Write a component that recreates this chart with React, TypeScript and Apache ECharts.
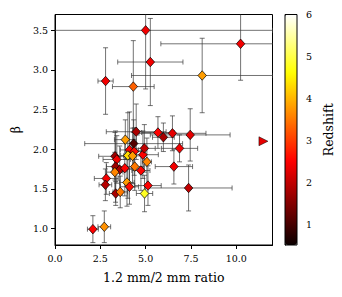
import React, { useEffect, useRef } from "react";
import * as echarts from "echarts";

// ratio (1.2mm/2mm), beta, x error, y error, redshift
const ratio = [5.0, 5.26, 10.24, 8.12, 4.32, 2.79, 4.48, 3.88, 4.34, 4.11, 4.37, 4.02, 4.28, 3.31, 3.41, 3.34, 3.57, 3.85, 4.4, 3.3, 2.83, 2.78, 3.35, 3.6, 3.97, 4.11, 4.94, 5.13, 4.74, 5.07, 4.85, 4.93, 5.68, 5.98, 6.48, 7.46, 6.87, 6.56, 7.37, 2.09, 2.72];
const beta = [3.5, 3.1, 3.33, 2.93, 2.79, 2.86, 2.22, 2.12, 2.07, 1.99, 1.97, 1.92, 1.915, 1.91, 1.87, 1.78, 1.74, 1.76, 1.78, 1.71, 1.63, 1.55, 1.44, 1.46, 1.58, 1.525, 1.44, 1.54, 1.73, 1.84, 1.93, 2.01, 2.21, 2.15, 2.2, 2.18, 2.01, 1.78, 1.51, 0.99, 1.02];
const ratioErr = [7.0, 1.8, 4.4, 3.9, 1.15, 0.42, 1.65, 0.6, 2.7, 0.5, 0.4, 0.4, 0.5, 0.9, 0.76, 0.5, 0.4, 0.5, 0.5, 0.45, 0.66, 0.35, 0.35, 0.4, 0.4, 0.5, 0.45, 0.73, 0.5, 0.25, 0.85, 0.6, 0.9, 0.6, 1.85, 2.2, 1.0, 1.03, 2.4, 0.3, 0.35];
const betaErr = [0.74, 0.55, 0.46, 0.47, 0.58, 0.42, 0.35, 0.25, 0.3, 0.48, 0.3, 0.54, 0.35, 0.3, 0.3, 0.45, 0.3, 0.35, 0.3, 0.25, 0.2, 0.2, 0.15, 0.2, 0.3, 0.22, 0.23, 0.25, 0.25, 0.3, 0.3, 0.3, 0.2, 0.18, 0.22, 0.33, 0.17, 0.22, 0.29, 0.17, 0.2];
const redshift = [2.4, 2.4, 2.4, 3.8, 3.3, 2.4, 1.8, 3.8, 1.1, 2.5, 2.6, 4.3, 3.8, 1.7, 2.4, 1.7, 1.8, 2.5, 3.5, 3.6, 2.4, 1.9, 1.8, 3.5, 3.8, 2.6, 4.8, 2.5, 2.5, 3.6, 2.5, 2.0, 2.5, 1.8, 2.3, 2.3, 2.4, 2.4, 2.0, 2.5, 3.7];

// lower limit (triangle)
const limitRatio = [11.5];
const limitBeta = [2.1];
const limitRedshift = [2.3];

const xTicks = [0, 2.5, 5, 7.5, 10];
const yTicks = [1, 1.5, 2, 2.5, 3, 3.5];
const zTicks = [1, 2, 3, 4, 5, 6];

const FONT = "DejaVu Serif";

function hot(t: number): string {
  const r = t < 0.365079 ? 0.0416 + (1 - 0.0416) * (t / 0.365079) : 1;
  const g = t < 0.365079 ? 0 : t < 0.746032 ? (t - 0.365079) / (0.746032 - 0.365079) : 1;
  const b = t < 0.746032 ? 0 : (t - 0.746032) / (1 - 0.746032);
  const h = (v: number) => Math.round(Math.max(0, Math.min(1, v)) * 255).toString(16).padStart(2, "0");
  return "#" + h(r) + h(g) + h(b);
}
const hotColors = Array.from({ length: 61 }, (_, i) => hot(i / 60));

export default function App() {
  const ref = useRef<HTMLDivElement>(null);
  useEffect(() => {
    if (!ref.current) return;
    const chart = echarts.init(ref.current, undefined, { renderer: "svg" });
    const points = ratio.map((x, i) => [x, beta[i], redshift[i]]);
    const errs = ratio.map((x, i) => [x, beta[i], ratioErr[i], betaErr[i]]);
    const limits = limitRatio.map((x, i) => [x, limitBeta[i], limitRedshift[i]]);
    const gridLeft = 55, gridTop = 14.5, gridW = 217.5, gridH = 230.5;
    const cbLeft = 285, cbW = 12;
    const labelStyle = { fontFamily: FONT, fontSize: 9.5, color: "#000" };
    chart.setOption({
      animation: false,
      textStyle: { fontFamily: FONT },
      grid: [
        { left: gridLeft, top: gridTop, width: gridW, height: gridH, show: true, borderColor: "#000", borderWidth: 1, backgroundColor: "transparent" },
        { left: cbLeft, top: gridTop, width: cbW, height: gridH, show: false },
      ],
      visualMap: {
        type: "continuous",
        min: 0.5,
        max: 6,
        dimension: 2,
        seriesIndex: [1, 2],
        inRange: { color: hotColors },
        orient: "vertical",
        left: cbLeft,
        top: gridTop,
        itemWidth: cbW,
        itemHeight: gridH,
        calculable: false,
        padding: 0,
        text: null,
        show: true,
      },
      xAxis: [
        {
          gridIndex: 0, type: "value", min: 0, max: 12,
          axisLine: { show: true, lineStyle: { color: "#000", width: 1 } },
          axisTick: { show: true, inside: false, length: 4, lineStyle: { color: "#000" }, customValues: xTicks },
          axisLabel: { ...labelStyle, margin: 8, customValues: xTicks, formatter: (v: number) => v.toFixed(1) },
          splitLine: { show: false },
          name: "1.2 mm/2 mm ratio", nameLocation: "middle", nameGap: 26,
          nameTextStyle: { fontFamily: FONT, fontSize: 12.5, color: "#000" },
        },
        { gridIndex: 1, type: "value", min: 0, max: 1, show: false },
      ],
      yAxis: [
        {
          gridIndex: 0, type: "value", min: 0.79, max: 3.7,
          axisLine: { show: true, lineStyle: { color: "#000", width: 1 } },
          axisTick: { show: true, inside: false, length: 4, lineStyle: { color: "#000" }, customValues: yTicks },
          axisLabel: { ...labelStyle, margin: 7, customValues: yTicks, formatter: (v: number) => v.toFixed(1) },
          splitLine: { show: false },
          name: "β", nameLocation: "middle", nameGap: 33, nameRotate: 90,
          nameTextStyle: { fontFamily: FONT, fontSize: 12.5, color: "#000" },
        },
        {
          gridIndex: 1, type: "value", min: 0.5, max: 6, position: "right",
          axisLine: { show: true, lineStyle: { color: "#000", width: 1 } },
          axisTick: { show: true, inside: false, length: 4, lineStyle: { color: "#000" }, customValues: zTicks },
          axisLabel: { ...labelStyle, margin: 9, customValues: zTicks, formatter: (v: number) => String(v) },
          splitLine: { show: false },
          name: "Redshift", nameLocation: "middle", nameGap: 25, nameRotate: 90,
          nameTextStyle: { fontFamily: FONT, fontSize: 12.5, color: "#000" },
        },
      ],
      graphic: [
        {
          type: "rect", z: 100, silent: true,
          shape: { x: cbLeft, y: gridTop, width: cbW, height: gridH },
          style: { fill: "none", stroke: "#000", lineWidth: 1 },
        },
      ],
      series: [
        {
          type: "custom",
          xAxisIndex: 0, yAxisIndex: 0,
          clip: true,
          z: 1,
          data: errs,
          encode: { x: 0, y: 1 },
          renderItem: (params: any, api: any) => {
            const x = api.value(0), y = api.value(1), xe = api.value(2), ye = api.value(3);
            const c = api.coord([x, y]);
            const l = api.coord([x - xe, y]);
            const r = api.coord([x + xe, y]);
            const t = api.coord([x, y + ye]);
            const b = api.coord([x, y - ye]);
            const cap = 2.5;
            const style = { stroke: "rgba(55,55,55,0.7)", lineWidth: 1, fill: "none" };
            return {
              type: "group",
              children: [
                { type: "line", shape: { x1: l[0], y1: c[1], x2: r[0], y2: c[1] }, style },
                { type: "line", shape: { x1: c[0], y1: t[1], x2: c[0], y2: b[1] }, style },
                { type: "line", shape: { x1: l[0], y1: c[1] - cap, x2: l[0], y2: c[1] + cap }, style },
                { type: "line", shape: { x1: r[0], y1: c[1] - cap, x2: r[0], y2: c[1] + cap }, style },
                { type: "line", shape: { x1: c[0] - cap, y1: t[1], x2: c[0] + cap, y2: t[1] }, style },
                { type: "line", shape: { x1: c[0] - cap, y1: b[1], x2: c[0] + cap, y2: b[1] }, style },
              ],
            };
          },
        },
        {
          type: "scatter",
          xAxisIndex: 0, yAxisIndex: 0,
          z: 3,
          symbol: "diamond",
          symbolSize: [8.5, 9.5],
          itemStyle: { borderColor: "#000", borderWidth: 0.7, opacity: 1 },
          data: points,
        },
        {
          type: "scatter",
          xAxisIndex: 0, yAxisIndex: 0,
          z: 3,
          symbol: "triangle",
          symbolRotate: -90,
          symbolSize: 9,
          itemStyle: { borderColor: "#000", borderWidth: 0.5, opacity: 1 },
          data: limits,
        },
        { type: "scatter", xAxisIndex: 1, yAxisIndex: 1, data: [] },
      ],
    });
    return () => chart.dispose();
  }, []);
  return <div ref={ref} style={{ width: 342, height: 297, position: "absolute", left: 0, top: 0 }} />;
}
